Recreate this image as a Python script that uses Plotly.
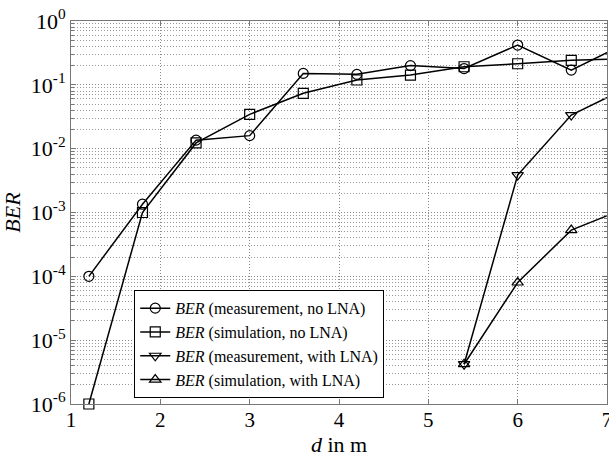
import plotly.graph_objects as go

d = [1.2, 1.8, 2.4, 3.0, 3.6, 4.2, 4.8, 5.4, 6.0, 6.6, 7.2]
ber_meas_no_lna = [1e-4, 1.35e-3, 1.36e-2, 1.6e-2, 0.151, 0.146, 0.20, 0.18, 0.42, 0.17, 0.44]
ber_sim_no_lna = [1e-6, 1e-3, 1.23e-2, 3.45e-2, 0.0736, 0.119, 0.142, 0.192, 0.214, 0.242, 0.256]
d_lna = [5.4, 6.0, 6.6, 7.2]
ber_meas_lna = [4.2e-6, 3.86e-3, 3.36e-2, 0.086]
ber_sim_lna = [4.2e-6, 8.0e-5, 5.3e-4, 1.15e-3]

names = [
    "<i>BER</i> (measurement, no LNA)",
    "<i>BER</i> (simulation, no LNA)",
    "<i>BER</i> (measurement, with LNA)",
    "<i>BER</i> (simulation, with LNA)",
]
symbols = ["circle-open", "square-open", "triangle-down-open", "triangle-up-open"]
xs = [d, d, d_lna, d_lna]
ys = [ber_meas_no_lna, ber_sim_no_lna, ber_meas_lna, ber_sim_lna]

fig = go.Figure()
for x, y, n, s in zip(xs, ys, names, symbols):
    fig.add_trace(go.Scatter(
        x=x, y=y, name=n, mode="lines+markers",
        line=dict(color="black", width=1.5),
        marker=dict(symbol=s, size=10, color="black", line=dict(color="black", width=1.2)),
        cliponaxis=False,
    ))

font_family = '"Liberation Serif", "DejaVu Serif", serif'
ytick_vals = [1e-6, 1e-5, 1e-4, 1e-3, 1e-2, 1e-1, 1]
ytick_text = ["10<sup>-6</sup>", "10<sup>-5</sup>", "10<sup>-4</sup>", "10<sup>-3</sup>",
              "10<sup>-2</sup>", "10<sup>-1</sup>", "10<sup>0</sup>"]

grid_dash = "1px,2px"

fig.update_layout(
    width=609, height=457,
    margin=dict(l=71, r=2, t=21, b=53),
    paper_bgcolor="white", plot_bgcolor="white",
    font=dict(family=font_family, size=20, color="black"),
    showlegend=True,
    legend=dict(
        x=0.118, y=0.297, xanchor="left", yanchor="top",
        bgcolor="white", bordercolor="black", borderwidth=1,
        font=dict(size=16, family=font_family),
        tracegroupgap=0,
    ),
    xaxis=dict(
        range=[1, 7], dtick=1, tick0=1,
        showline=True, linecolor="#777", linewidth=1, mirror="ticks",
        showgrid=True, gridcolor="#888", griddash=grid_dash, gridwidth=1,
        ticks="inside", ticklen=5, tickcolor="#777",
        zeroline=False, automargin=False,
        ticklabeloverflow="allow",
        ticklabelstandoff=-3,
        title=dict(text="<i>d</i> in m", font=dict(size=22), standoff=4),
        tickfont=dict(size=21),
    ),
    yaxis=dict(
        type="log", range=[-6, 0],
        tickvals=ytick_vals, ticktext=ytick_text,
        showline=True, linecolor="#777", linewidth=1, mirror="ticks",
        showgrid=True, gridcolor="#888", griddash=grid_dash, gridwidth=1,
        ticks="inside", ticklen=5, tickcolor="#777",
        minor=dict(dtick="D1", showgrid=True, gridcolor="#999", griddash=grid_dash,
                   ticks="inside", ticklen=3, tickcolor="#777"),
        zeroline=False, automargin=False,
        ticklabeloverflow="allow",
        title=dict(text="<i>BER</i>", font=dict(size=22), standoff=4),
        tickfont=dict(size=22),
    ),
)

fig.write_html("out.html", config={"displayModeBar": False},
               post_script="document.body.style.margin='0';")
